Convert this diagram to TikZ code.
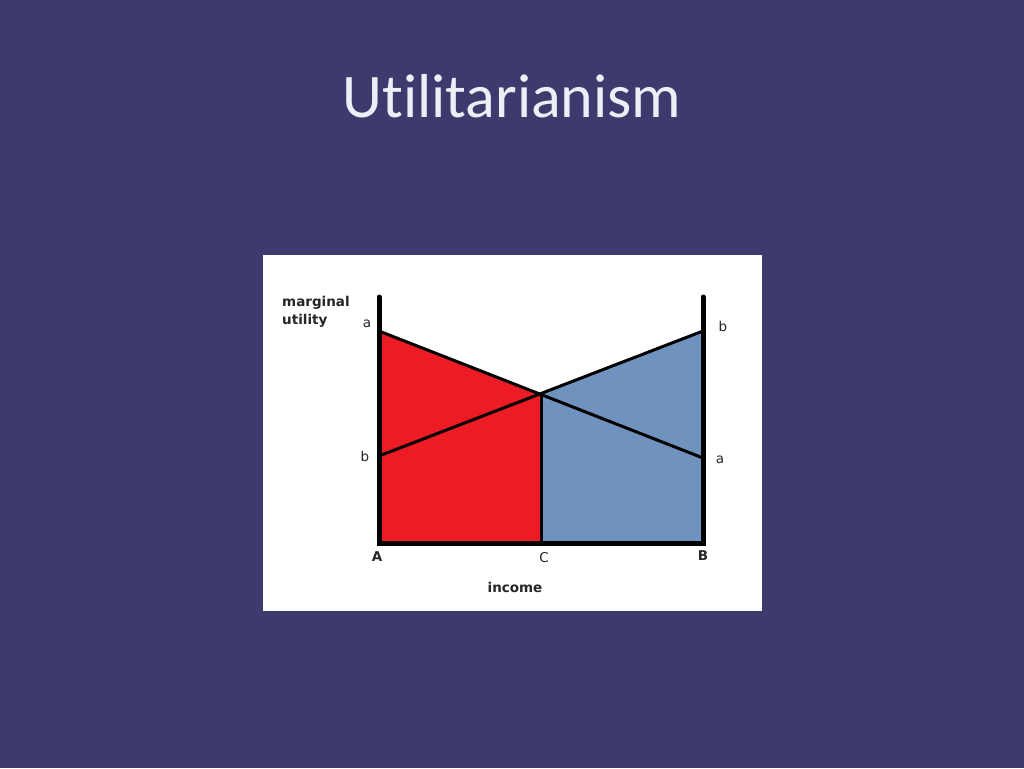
\documentclass[tikz,border=0pt]{standalone}
\usepackage{fontspec}
\setmainfont{DejaVu Sans}
\newfontfamily\titlefont[Ligatures={NoCommon}]{Carlito}
\definecolor{slidebg}{HTML}{3F3A6E}
\definecolor{titlecol}{HTML}{EEEEF6}
\definecolor{redfill}{HTML}{ED1C24}
\definecolor{bluefill}{HTML}{7092BE}
\tikzset{
  axisline/.style={line width=5pt, line cap=round, line join=miter},
  curveline/.style={line width=3pt, line cap=round},
  lbl/.style={font=\fontsize{13.5}{18}\selectfont, inner sep=0pt, text=black!85},
  blbl/.style={font=\bfseries\fontsize{13.5}{18}\selectfont, inner sep=0pt, text=black!85},
}
\begin{document}
\begin{tikzpicture}[x=1pt,y=-1pt]
\useasboundingbox (0,0) rectangle (1024,768);
\fill[slidebg] (0,0) rectangle (1024,768);
\node[font=\titlefont\fontsize{62}{70}\selectfont, text=titlecol, inner sep=0pt] (title) at (512,96) {Utilitarianism};
\fill[white] (263,255) rectangle (762,611);
% key points
\coordinate (Atop) at (379,297);
\coordinate (Btop) at (703,297);
\coordinate (A) at (379,543);
\coordinate (B) at (703,543);
\coordinate (C) at (541,543);
\coordinate (La) at (379,331);
\coordinate (Lb) at (379,456);
\coordinate (Rb) at (703,331);
\coordinate (Ra) at (703,458);
\coordinate (X) at (541,394);
% fills
\fill[redfill] (La) -- (X) -- (C) -- (A) -- cycle;
\fill[bluefill] (X) -- (Rb) -- (B) -- (C) -- cycle;
% lines
\draw[curveline] (La) -- (Ra);
\draw[curveline] (Lb) -- (Rb);
\draw[curveline] (X) -- (C);
\draw[axisline] (Atop) -- (A) -- (B) -- (Btop);
% labels
\node[blbl, align=left, anchor=north west] (mu) at (282,296) {marginal\\utility};
\node[lbl] (la) at (367,324) {a};
\node[lbl] (lb) at (365,456) {b};
\node[lbl] (rb) at (723,326) {b};
\node[lbl] (ra) at (720,460) {a};
\node[blbl] (lA) at (377,557) {A};
\node[lbl] (lC) at (544,558) {C};
\node[blbl] (lB) at (703,556) {B};
\node[blbl] (inc) at (515,587) {income};
\end{tikzpicture}
\end{document}
